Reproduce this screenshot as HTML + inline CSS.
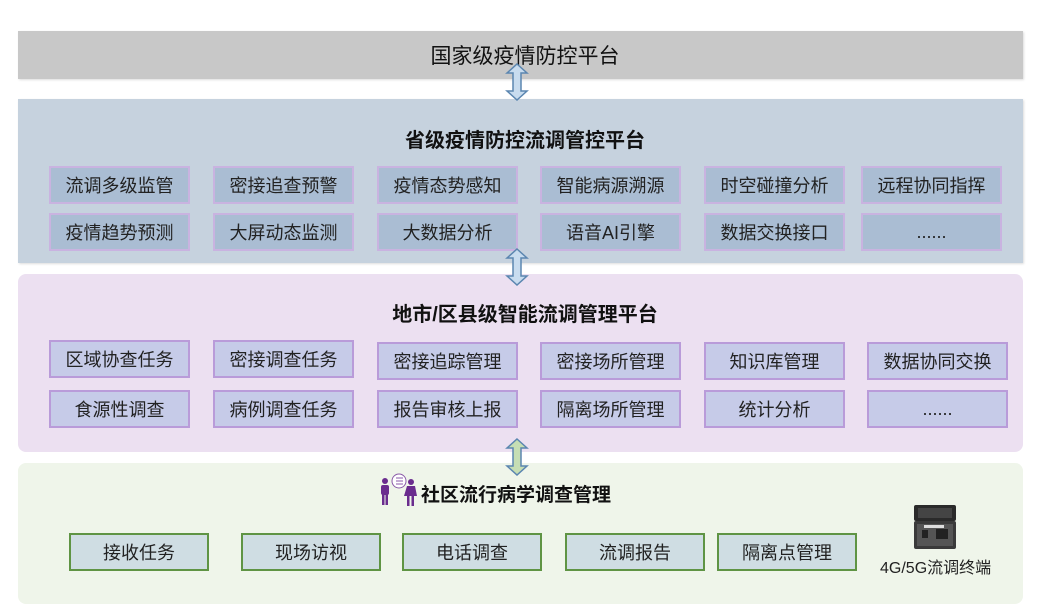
<!DOCTYPE html>
<html><head><meta charset="utf-8"><style>
body{margin:0;width:1050px;height:616px;background:#fff;position:relative;overflow:hidden;font-family:"Liberation Sans","Noto Sans CJK SC",sans-serif;}
.a{position:absolute;box-sizing:border-box;}
.band{position:absolute;box-sizing:border-box;}
.t{position:absolute;left:0;width:100%;text-align:center;color:#111;}
.b{position:absolute;box-sizing:border-box;display:flex;align-items:center;justify-content:center;font-size:18px;color:#222;}
.p{background:#aabdd3;border:2px solid #c9b3e0;height:38px;width:141px;}
.c{background:#c6cbe8;border:2px solid #b99bd9;height:38px;width:141px;}
.g{background:#cfdde3;border:2px solid #5f9444;height:38px;width:140px;}
</style></head><body>
<div class="band" style="left:18px;top:31px;width:1005px;height:48px;background:#c8c8c8;box-shadow:1px 1px 2px #ddd;"></div>
<div class="t" style="top:40px;font-size:21px;">国家级疫情防控平台</div>

<div class="band" style="left:18px;top:99px;width:1005px;height:164px;background:#c6d2de;box-shadow:1px 1px 2px #ddd;"></div>
<div class="t" style="top:124px;font-size:20px;font-weight:bold;">省级疫情防控流调管控平台</div>
<div class="b p" style="left:49px;top:166px">流调多级监管</div>
<div class="b p" style="left:213px;top:166px">密接追查预警</div>
<div class="b p" style="left:377px;top:166px">疫情态势感知</div>
<div class="b p" style="left:540px;top:166px">智能病源溯源</div>
<div class="b p" style="left:704px;top:166px">时空碰撞分析</div>
<div class="b p" style="left:861px;top:166px">远程协同指挥</div>
<div class="b p" style="left:49px;top:213px">疫情趋势预测</div>
<div class="b p" style="left:213px;top:213px">大屏动态监测</div>
<div class="b p" style="left:377px;top:213px">大数据分析</div>
<div class="b p" style="left:540px;top:213px">语音AI引擎</div>
<div class="b p" style="left:704px;top:213px">数据交换接口</div>
<div class="b p" style="left:861px;top:213px">......</div>

<div class="band" style="left:18px;top:274px;width:1005px;height:178px;background:#ece0f1;border-radius:8px;"></div>
<div class="t" style="top:298px;font-size:20px;font-weight:bold;">地市/区县级智能流调管理平台</div>
<div class="b c" style="left:49px;top:340px">区域协查任务</div>
<div class="b c" style="left:213px;top:340px">密接调查任务</div>
<div class="b c" style="left:377px;top:342px">密接追踪管理</div>
<div class="b c" style="left:540px;top:342px">密接场所管理</div>
<div class="b c" style="left:704px;top:342px">知识库管理</div>
<div class="b c" style="left:867px;top:342px">数据协同交换</div>
<div class="b c" style="left:49px;top:390px">食源性调查</div>
<div class="b c" style="left:213px;top:390px">病例调查任务</div>
<div class="b c" style="left:377px;top:390px">报告审核上报</div>
<div class="b c" style="left:540px;top:390px">隔离场所管理</div>
<div class="b c" style="left:704px;top:390px">统计分析</div>
<div class="b c" style="left:867px;top:390px">......</div>

<div class="band" style="left:18px;top:463px;width:1005px;height:141px;background:#eff5ea;border-radius:8px;"></div>
<div class="a" style="left:421px;top:480px;font-size:19px;font-weight:bold;color:#111;">社区流行病学调查管理</div>
<svg class="a" style="left:378px;top:473px" width="42" height="34" viewBox="0 0 42 34">
<g fill="#6a2c8e"><circle cx="7" cy="8" r="3"/><rect x="3" y="12" width="8" height="10" rx="2"/><rect x="4" y="21" width="2.5" height="11"/><rect x="7.5" y="21" width="2.5" height="11"/>
<circle cx="33" cy="9" r="3"/><path d="M29 13h8l2 10h-3v10h-2.5v-10h-2v10H29V23h-3z"/></g>
<circle cx="21" cy="8" r="7" fill="#fff" stroke="#8a5aa8" stroke-width="1"/>
<g stroke="#8a5aa8" stroke-width="1"><line x1="18" y1="5" x2="25" y2="5"/><line x1="18" y1="8" x2="25" y2="8"/><line x1="18" y1="11" x2="25" y2="11"/></g></svg>
<div class="b g" style="left:69px;top:533px">接收任务</div>
<div class="b g" style="left:241px;top:533px">现场访视</div>
<div class="b g" style="left:402px;top:533px">电话调查</div>
<div class="b g" style="left:565px;top:533px">流调报告</div>
<div class="b g" style="left:717px;top:533px">隔离点管理</div>
<svg class="a" style="left:912px;top:503px" width="46" height="48" viewBox="0 0 46 48">
<rect x="2" y="2" width="42" height="16" rx="2" fill="#2a2a2a"/><rect x="6" y="5" width="34" height="10" fill="#444"/>
<rect x="2" y="18" width="42" height="28" rx="2" fill="#3a3a3a"/><rect x="5" y="21" width="36" height="22" fill="#555"/>
<rect x="10" y="27" width="6" height="8" fill="#222"/><rect x="24" y="26" width="12" height="10" fill="#222"/><rect x="12" y="22" width="20" height="3" fill="#ddd"/></svg>
<div class="a" style="left:880px;top:554px;font-size:16px;color:#222;">4G/5G流调终端</div>

<svg class="a" style="left:505px;top:63px" width="24" height="38" viewBox="0 0 24 38"><path d="M12 1L22 10H16V28H22L12 37L2 28H8V10H2Z" fill="#c8dcef" stroke="#5b86b0" stroke-width="1.5"/></svg>
<svg class="a" style="left:505px;top:248px" width="24" height="38" viewBox="0 0 24 38"><path d="M12 1L22 10H16V28H22L12 37L2 28H8V10H2Z" fill="#c8dcef" stroke="#5b86b0" stroke-width="1.5"/></svg>
<svg class="a" style="left:505px;top:438px" width="24" height="38" viewBox="0 0 24 38"><path d="M12 1L22 10H16V28H22L12 37L2 28H8V10H2Z" fill="#c6deb4" stroke="#5b86b0" stroke-width="1.5"/></svg>
</body></html>
